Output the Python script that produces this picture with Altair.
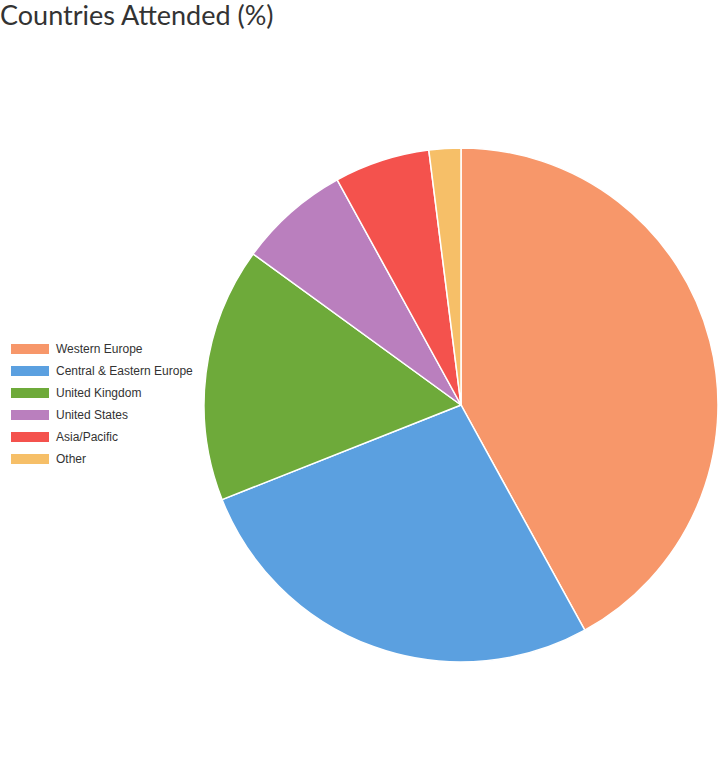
import altair as alt
import pandas as pd

# Share of attendees by region (%)
regions = ["Western Europe", "Central & Eastern Europe", "United Kingdom",
           "United States", "Asia/Pacific", "Other"]
shares = [42, 27, 16, 7, 6, 2]
colors = ["#F7976A", "#5BA0E0", "#6EAA3A", "#BA7FBE", "#F4524D", "#F6BF68"]

df = pd.DataFrame({"region": regions, "share": shares, "rank": range(len(regions))})

chart = (
    alt.Chart(df)
    .mark_arc(radius=257, stroke="white", strokeWidth=1.5)
    .encode(
        theta=alt.Theta("share:Q", stack=True),
        order=alt.Order("rank:Q"),
        color=alt.Color(
            "region:N",
            sort=regions,
            scale=alt.Scale(domain=regions, range=colors),
            legend=alt.Legend(
                title=None,
                orient="none",
                legendX=-191,
                legendY=192,
                symbolType="M-1,-0.263H1V0.263H-1Z",
                symbolSize=1444,
                symbolStrokeWidth=0,
                symbolOpacity=1,
                labelFont="Liberation Sans",
                labelFontSize=12,
                labelColor="#333333",
                labelOffset=7,
                clipHeight=22,
                rowPadding=0,
            ),
        ),
    )
    .properties(
        width=518,
        height=518,
        padding={"left": 202, "top": 146, "right": 0, "bottom": 101},
        autosize=alt.AutoSizeParams(type="none"),
        title=alt.TitleParams(
            "Countries Attended (%)",
            anchor="start",
            frame="group",
            dx=-202,
            offset=114,
            font="Lato",
            fontSize=27,
            fontWeight="normal",
            color="#333333",
        ),
    )
    .configure_view(stroke=None)
)

chart.save("out.html", embed_options={"renderer": "svg", "actions": False})
